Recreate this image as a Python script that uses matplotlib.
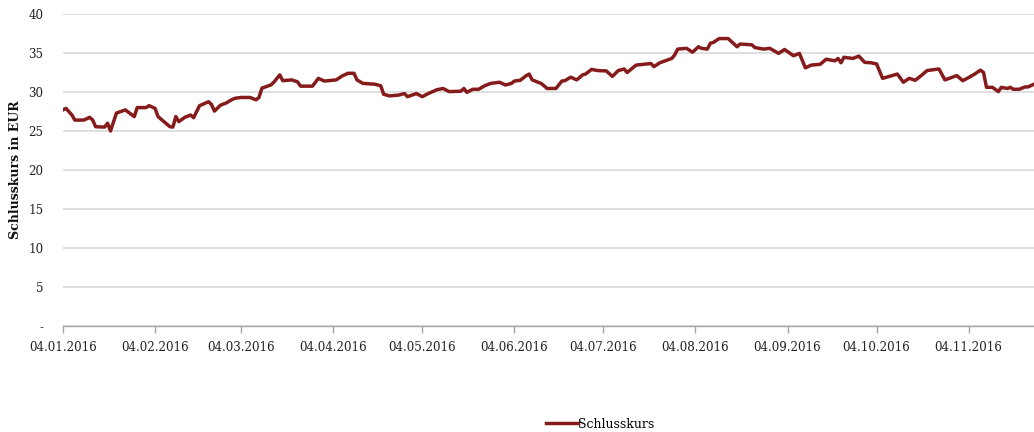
import numpy as np
import pandas as pd
import matplotlib
matplotlib.use("Agg")
import matplotlib.pyplot as plt
import matplotlib.dates as mdates

# Data (days after 04.01.2016, closing price in EUR)
start_date = "2016-01-04"
day_offsets = [0, 1, 3, 4, 7, 9, 10, 11, 14, 15, 16, 18, 21, 24, 25, 28, 29, 31, 32, 36,
               37, 38, 39, 41, 43, 44, 45, 46, 49, 50, 51, 53, 55, 57, 58, 60, 63, 65, 66, 67,
               70, 71, 73, 74, 77, 79, 80, 84, 86, 88, 92, 94, 96, 98, 99, 101, 105, 107, 108, 110,
               113, 115, 116, 119, 121, 123, 126, 128, 130, 134, 135, 136, 138, 140, 142, 144, 147, 149, 151, 152,
               154, 156, 157, 158, 161, 162, 163, 166, 168, 169, 171, 173, 175, 176, 178, 180, 183, 185, 187, 189,
               190, 193, 198, 199, 201, 205, 206, 207, 210, 212, 214, 215, 217, 218, 219, 221, 224, 227, 228, 232,
               233, 236, 238, 241, 243, 246, 248, 250, 252, 255, 257, 260, 261, 262, 263, 266, 268, 270, 272, 274,
               276, 281, 283, 285, 287, 289, 291, 295, 297, 301, 303, 305, 307, 309, 310, 311, 313, 315, 316, 318,
               319, 320, 322, 324, 325, 327]
closing = [27.7, 27.9, 27.05, 26.4, 26.4, 26.75, 26.4, 25.55, 25.5, 26.0, 25.0, 27.3, 27.7, 26.85, 28.0, 28.0, 28.25, 27.9, 26.85, 25.55,
           25.5, 26.85, 26.2, 26.75, 27.05, 26.7, 27.5, 28.25, 28.75, 28.4, 27.55, 28.3, 28.6, 29.05, 29.2, 29.3, 29.3, 29.0, 29.3, 30.5,
           30.9, 31.25, 32.2, 31.45, 31.55, 31.3, 30.75, 30.75, 31.75, 31.4, 31.55, 32.05, 32.4, 32.4, 31.55, 31.1, 31.0, 30.8, 29.7, 29.5,
           29.6, 29.8, 29.4, 29.8, 29.4, 29.8, 30.3, 30.45, 30.05, 30.1, 30.45, 29.95, 30.35, 30.35, 30.8, 31.1, 31.25, 30.9, 31.1, 31.4,
           31.5, 32.1, 32.3, 31.55, 31.1, 30.8, 30.45, 30.45, 31.4, 31.45, 31.9, 31.55, 32.2, 32.3, 32.9, 32.75, 32.7, 32.0, 32.75, 32.95,
           32.5, 33.45, 33.65, 33.25, 33.75, 34.3, 34.75, 35.5, 35.6, 35.1, 35.8, 35.6, 35.5, 36.25, 36.35, 36.85, 36.85, 35.8, 36.15, 36.05,
           35.7, 35.5, 35.6, 34.95, 35.45, 34.65, 34.95, 33.1, 33.45, 33.55, 34.2, 34.0, 34.3, 33.75, 34.45, 34.3, 34.6, 33.8, 33.75, 33.6,
           31.75, 32.3, 31.25, 31.75, 31.5, 32.1, 32.75, 32.95, 31.55, 32.1, 31.45, 31.85, 32.3, 32.8, 32.5, 30.6, 30.6, 30.05, 30.6, 30.45,
           30.6, 30.35, 30.35, 30.65, 30.65, 31.0]
tick_dates = ["2016-01-04", "2016-02-04", "2016-03-04", "2016-04-04", "2016-05-04", "2016-06-04",
              "2016-07-04", "2016-08-04", "2016-09-04", "2016-10-04", "2016-11-04"]
y_ticks = [0, 5, 10, 15, 20, 25, 30, 35, 40]
y_labels = ["-", "5", "10", "15", "20", "25", "30", "35", "40"]

dates = pd.Timestamp(start_date) + pd.to_timedelta(day_offsets, unit="D")

plt.rcParams['font.family'] = ['DejaVu Serif']
line_color = '#861b1b'
grid_color = '#d9d9d9'

fig = plt.figure(figsize=(10.34, 4.32), dpi=100)
ax = fig.add_axes([63 / 1034, 1 - 326 / 432, 1 - 63 / 1034, (326 - 14) / 432])

ax.plot(dates, closing, color=line_color, lw=2.5, solid_joinstyle='round', label='Schlusskurs')

ax.set_ylim(0, 40)
ax.set_xlim(pd.Timestamp(start_date), pd.Timestamp(start_date) + pd.Timedelta(days=327))
ax.set_yticks(y_ticks)
ax.set_yticklabels(y_labels)
ax.yaxis.grid(True, color=grid_color, lw=1.2)
ax.set_axisbelow(True)

ax.set_xticks(pd.to_datetime(tick_dates))
ax.xaxis.set_major_formatter(mdates.DateFormatter('%d.%m.%Y'))

for side in ['top', 'right', 'left']:
    ax.spines[side].set_visible(False)
ax.spines['bottom'].set_color('#a6a6a6')
ax.spines['bottom'].set_linewidth(1.0)
ax.tick_params(axis='x', colors='#a6a6a6', length=5, width=1.0, direction='out',
               labelcolor='#222222', labelsize=8.6, pad=6)
ax.tick_params(axis='y', length=0, labelcolor='#222222', labelsize=8.6, pad=14)

# y label placed in figure coordinates so it is not clipped
fig.text(16 / 1034, 1 - 170 / 432, 'Schlusskurs in EUR', rotation=90, ha='center', va='center',
         fontweight='bold', fontsize=9, color='#111111')

fig.legend(loc='center', bbox_to_anchor=(600 / 1034, 1 - 424 / 432), frameon=False, fontsize=9,
           handlelength=2.6, handletextpad=0.0)

fig.savefig('out.png', dpi=100)
